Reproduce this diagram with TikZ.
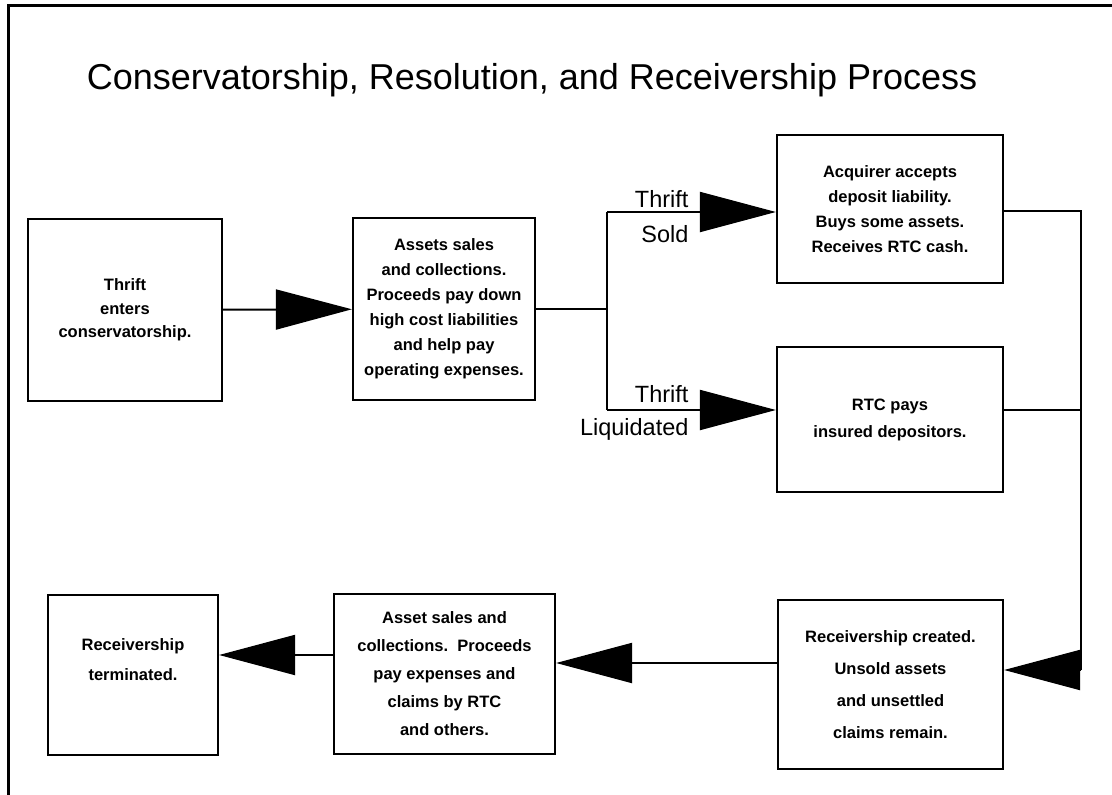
\documentclass[tikz,border=0pt]{standalone}
\usepackage{fontspec}
\setmainfont{Liberation Sans}
\usepackage{tikz}
\usetikzlibrary{positioning}
\usetikzlibrary{arrows.meta}
\tikzset{
    procbox/.style = {rectangle, draw=black, line width=2.2pt, align=center, inner sep=0pt,
                      font=\bfseries\fontsize{16.5}{#1}\selectfont},
    procbox/.default = 25,
    edgel/.style = {line width=2pt},
    edgef/.style = {-{Triangle[length=76pt,width=40pt]}, line width=2pt},
    frame/.style = {line width=3pt},
    branch/.style = {anchor=base east, font=\fontsize{23.5}{27}\selectfont},
    headline/.style = {anchor=base, font=\fontsize{36}{40}\selectfont}
}
\begin{document}
\begin{tikzpicture}[x=1pt,y=-1pt]
\useasboundingbox (0,0) rectangle (1112,795);
%
\draw[frame] (8,795) -- (8,5) -- (1112,5);
\node[headline] at (532,89) (title) {Conservatorship, Resolution, and Receivership Process};
%
\node[procbox=23.5, minimum width=194pt, minimum height=182pt] at (125,310) (enter) {Thrift\\enters\\conservatorship.};
\node[procbox, minimum width=182pt, minimum height=182pt] at (444,309) (sales) {Assets sales\\and collections.\\Proceeds pay down\\high cost liabilities\\and help pay\\operating expenses.};
\node[procbox, minimum width=226pt, minimum height=148pt] at (890,209) (sold) {Acquirer accepts\\deposit liability.\\Buys some assets.\\Receives RTC cash.};
\node[procbox=27, minimum width=226pt, minimum height=145pt] at (890,419.5) (liq) {RTC pays\\insured depositors.};
\node[procbox=32, minimum width=225pt, minimum height=169pt] at (890.5,684.5) (recv) {Receivership created.\\Unsold assets\\and unsettled\\claims remain.};
\node[procbox=28, minimum width=221pt, minimum height=160pt] at (444.5,674) (rsales) {Asset sales and\\collections.\ \ Proceeds\\pay expenses and\\claims by RTC\\and others.};
\node[procbox=30, minimum width=170pt, minimum height=160pt] at (133,675) (term) {Receivership\\terminated.\\\mbox{}};
%
\coordinate (st) at (607,212);
\coordinate (sb) at (607,410);
\coordinate (rt) at (1081,211);
\coordinate (rm) at (1081,410);
\coordinate (rb) at (1081,670);
\coordinate (a56) at (0,663);
\coordinate (a67) at (0,655);
%
\draw[edgef] (enter) -- (sales);
\draw[edgel] (sales.east) -- (sales.east -| st);
\draw[edgel] (st) -- (sb);
\draw[edgef] (st) -- (sold.west |- st);
\draw[edgef] (sb) -- (liq.west |- sb);
\draw[edgel] (sold.east |- rt) -- (rt) -- (rb);
\draw[edgel] (liq.east |- rm) -- (rm);
\draw[edgef] (rb) -- (recv.east |- rb);
\draw[edgef] (recv.west |- a56) -- (rsales.east |- a56);
\draw[edgef] (rsales.west |- a67) -- (term.east |- a67);
%
\node[branch] at (692,207) (t1) {Thrift};
\node[branch] at (692,242) (s1) {Sold};
\node[branch] at (692,402) (t2) {Thrift};
\node[branch] at (692,435) (l2) {Liquidated};
\end{tikzpicture}
\end{document}
